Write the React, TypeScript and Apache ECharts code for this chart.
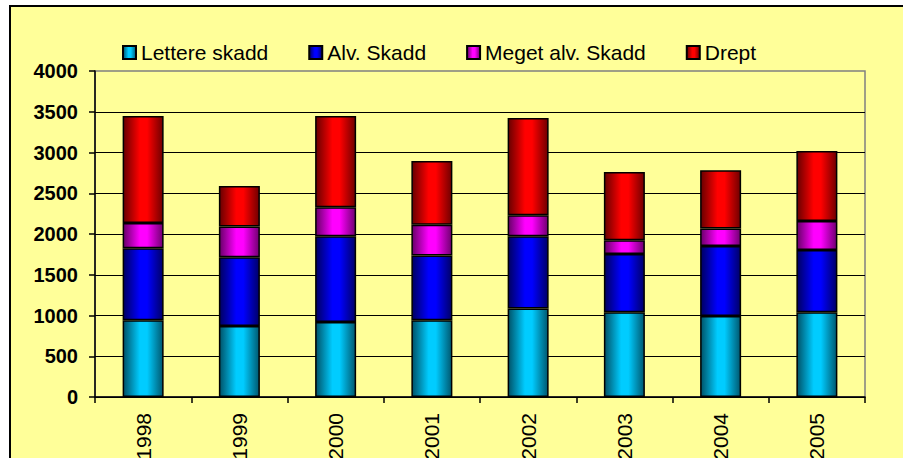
import React, { useEffect, useRef } from "react";
import * as echarts from "echarts";

const years = ["1998", "1999", "2000", "2001", "2002", "2003", "2004", "2005"];
const lettereSkadd = [941, 871, 920, 941, 1085, 1039, 994, 1039];
const alvSkadd = [884, 843, 1052, 794, 887, 716, 859, 765];
const megetAlvSkadd = [310, 377, 356, 380, 257, 168, 213, 356];
const drept = [1313, 498, 1120, 781, 1194, 838, 716, 858];
const seriesNames = ["Lettere skadd", "Alv. Skadd", "Meget alv. Skadd", "Drept"];

const FONT = "'Liberation Sans', Arial, sans-serif";

function grad(dark: string, bright: string, edge: string) {
  return new echarts.graphic.LinearGradient(0, 0, 1, 0, [
    { offset: 0, color: dark },
    { offset: 0.42, color: bright },
    { offset: 0.6, color: bright },
    { offset: 1, color: edge },
  ]);
}

export default function App() {
  const ref = useRef<HTMLDivElement>(null);
  useEffect(() => {
    if (!ref.current) return;
    const chart = echarts.init(ref.current, null, { renderer: "svg" });
    const colors = [
      grad("#005268", "#00ccff", "#005870"),
      grad("#000060", "#0000ff", "#000068"),
      grad("#680068", "#ff00ff", "#700070"),
      grad("#680000", "#ff0000", "#700000"),
    ];
    const data = [lettereSkadd, alvSkadd, megetAlvSkadd, drept];
    chart.setOption({
      animation: false,
      backgroundColor: "#ffffff",
      graphic: [
        {
          type: "rect",
          z: -10,
          silent: true,
          shape: { x: 10, y: 6, width: 1000, height: 1000 },
          style: { fill: "#FFFF99", stroke: "#000000", lineWidth: 2 },
        },
      ],
      legend: {
        left: 117,
        top: 37,
        itemWidth: 13,
        itemHeight: 13,
        itemGap: 40,
        icon: "rect",
        textStyle: { fontFamily: FONT, fontSize: 21, color: "#000", lineHeight: 21 },
        data: seriesNames,
      },
      grid: {
        left: 95,
        right: 38,
        top: 71,
        bottom: 61,
        containLabel: false,
        outerBoundsMode: "none",
        show: true,
        borderColor: "#808080",
        borderWidth: 1.5,
        backgroundColor: "transparent",
      },
      xAxis: {
        type: "category",
        data: years,
        axisLine: { show: true, lineStyle: { color: "#000", width: 1.5 } },
        axisTick: { show: true, length: 6, alignWithLabel: false, lineStyle: { color: "#000", width: 1.5 } },
        axisLabel: { rotate: 90, fontFamily: FONT, fontSize: 21, color: "#000", margin: 16 },
      },
      yAxis: {
        type: "value",
        min: 0,
        max: 4000,
        interval: 500,
        axisLine: { show: true, lineStyle: { color: "#000", width: 1.5 } },
        axisTick: { show: true, length: 6, lineStyle: { color: "#000", width: 1.5 } },
        axisLabel: {
          fontFamily: FONT,
          fontSize: 20,
          fontWeight: "bold",
          color: "#000",
          margin: 17,
          formatter: (v: number) => String(v),
        },
        splitLine: { show: true, showMaxLine: false, lineStyle: { color: "#000", width: 1.2 } },
      },
      series: seriesNames.map((name, i) => ({
        name,
        type: "bar",
        stack: "total",
        barWidth: 41,
        data: data[i],
        itemStyle: { color: colors[i], borderColor: "#000", borderWidth: 1.5 },
      })),
    });
    return () => chart.dispose();
  }, []);
  return (
    <div
      ref={ref}
      style={{ position: "fixed", left: 0, top: 0, width: 903, height: 458 }}
    />
  );
}
